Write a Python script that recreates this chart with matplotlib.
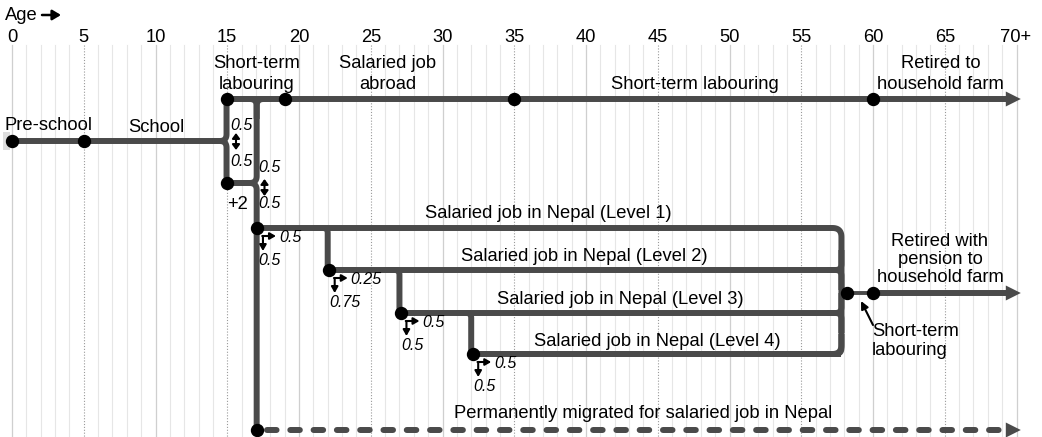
import matplotlib
matplotlib.use('Agg')
import matplotlib.pyplot as plt
import numpy as np

plt.rcParams['font.family'] = ['Liberation Sans', 'DejaVu Sans']

# ---------------- data ----------------
tick_ages = [0, 5, 10, 15, 20, 25, 30, 35, 40, 45, 50, 55, 60, 65, 70]
tick_labels = ['0', '5', '10', '15', '20', '25', '30', '35', '40', '45', '50', '55', '60', '65', '70+']

school_nodes = [0, 5]            # pre-school start, school start
school_end = 15                  # first decision point
extra_school_end = 17            # +2 years of school
top_nodes = [15, 19, 35, 60]     # short-term labouring, abroad, labouring, retired
top_labels = ['Short-term\nlabouring', 'Salaried job\nabroad', 'Short-term labouring',
              'Retired to\nhousehold farm']
top_label_ages = [17.05, 26.2, 47.6, 64.7]

level_start = [17, 22, 27, 32]
level_labels = ['Salaried job in Nepal (Level 1)', 'Salaried job in Nepal (Level 2)',
                'Salaried job in Nepal (Level 3)', 'Salaried job in Nepal (Level 4)']
level_label_ages = [37.4, 39.9, 42.4, 45.0]
level_end = 57.8
pension_nodes = [58.2, 60]
end_age = 70.3

school_split = ['0.5', '0.5']
extra_split = ['0.5', '0.5']
level_stay = ['0.5', '0.25', '0.5', '0.5']
level_move = ['0.5', '0.75', '0.5', '0.5']

# ---------------- layout ----------------
S = 14.35            # pixels per year
X0 = 12              # pixel of age 0
W, H = 1042, 437
LC = '#4a4a4a'
LW = 4.3
MS = 8.6
FS = 13.2
FSI = 11.5
Y_TOP, Y_SCH, Y_P2 = 99, 141, 183
Y_LEV = [228, 270, 313, 354]
Y_PEN = 293
Y_PERM = 430

fig = plt.figure(figsize=(W / 100, H / 100), dpi=100)
ax = fig.add_axes([0, 0, 1, 1])
ax.set_xlim(-X0 / S, (W - X0) / S)
ax.set_ylim(H, 0)
ax.axis('off')

def dx(px):
    return px / S

def ax_px(px):
    return (px - X0) / S

# grid
for a in range(0, 71):
    if a % 10 == 0:
        ax.plot([a, a], [45, H], color='#cfcfcf', lw=0.9, zorder=0)
    elif a % 5 == 0:
        ax.plot([a, a], [45, H], color='#9a9a9a', lw=0.8, ls=(0, (1, 1.6)), zorder=0)
    else:
        ax.plot([a, a], [45, H], color='#e6e6e6', lw=0.8, zorder=0)

# ticks
for a, lab in zip(tick_ages, tick_labels):
    ax.text(a + (dx(-1) if lab.endswith('+') else 0), 41.5, lab, ha='center', va='baseline', fontsize=FS)
ax.text(ax_px(5), 20, 'Age', ha='left', va='baseline', fontsize=FS)
ax.annotate('', xy=(ax_px(61), 15), xytext=(ax_px(42), 15),
            arrowprops=dict(arrowstyle='-|>,head_length=0.5,head_width=0.3', color='black', lw=1.8,
                            shrinkA=0, shrinkB=0))


def rpath(pts, r=7, **kw):
    P = [np.array([a * S, y], float) for a, y in pts]
    out = [P[0]]
    for i in range(1, len(P) - 1):
        p0, p1, p2 = P[i - 1], P[i], P[i + 1]
        d1 = (p0 - p1) / np.linalg.norm(p0 - p1)
        d2 = (p2 - p1) / np.linalg.norm(p2 - p1)
        rr = min(r, np.linalg.norm(p0 - p1) / 2, np.linalg.norm(p2 - p1) / 2)
        A = p1 + d1 * rr
        B = p1 + d2 * rr
        t = np.linspace(0, 1, 14)[:, None]
        out.extend(list((1 - t) ** 2 * A + 2 * (1 - t) * t * p1 + t ** 2 * B))
    out.append(P[-1])
    out = np.array(out)
    kw.setdefault('color', LC)
    kw.setdefault('lw', LW)
    ax.plot(out[:, 0] / S, out[:, 1], solid_capstyle='butt', solid_joinstyle='round', zorder=2, **kw)


def arrowhead(age, y):
    L, h = 15, 7.5
    ax.fill([age, age - dx(L), age - dx(L)], [y, y - h, y + h], color=LC, zorder=3, lw=0)


def node(a, y):
    ax.plot([a], [y], 'o', color='black', ms=MS, zorder=5)


# pre-school / school
ax.add_patch(plt.Rectangle((dx(-9), 132), dx(7), 18, color='#dddddd', zorder=1, lw=0))
rpath([(school_nodes[0], Y_SCH), (school_end, Y_SCH)])
rpath([(school_end - 1, Y_SCH), (school_end - 0.05, Y_SCH), (school_end - 0.05, Y_TOP), (school_end + 1, Y_TOP)], r=7)
rpath([(school_end - 1, Y_SCH), (school_end - 0.05, Y_SCH), (school_end - 0.05, Y_P2), (school_end + 1, Y_P2)], r=7)
for a in school_nodes:
    node(a, Y_SCH)
ax.text(ax_px(49), 130, 'Pre-school', ha='center', va='baseline', fontsize=FS)
ax.text(ax_px(156), 132, 'School', ha='center', va='baseline', fontsize=FS)

# top line
rpath([(top_nodes[0], Y_TOP), (end_age - dx(14), Y_TOP)])
arrowhead(end_age, Y_TOP)
for a in top_nodes:
    node(a, Y_TOP)
for a, lab in zip(top_label_ages, top_labels):
    if '\n' in lab:
        for i, ln in enumerate(lab.split('\n')):
            ax.text(a, 68 + i * 21, ln, ha='center', va='baseline', fontsize=FS)
    else:
        ax.text(a, 89, lab, ha='center', va='baseline', fontsize=FS)

# +2 years of school, then split
xs2 = extra_school_end + 0.05
rpath([(school_end, Y_P2), (xs2, Y_P2), (xs2, Y_TOP), (xs2 + 1, Y_TOP)], r=7)
rpath([(school_end, Y_P2), (xs2, Y_P2), (xs2, Y_PERM)], r=7)
rpath([(xs2 - 1, Y_TOP), (xs2, Y_TOP), (xs2, Y_TOP + 20)], r=7)
node(school_end, Y_P2)
ax.text(ax_px(238), 209, '+2', ha='center', va='baseline', fontsize=FS)

# split annotations (double arrows)
def dbl(a_px, yc, half):
    ax.annotate('', xy=(ax_px(a_px), yc - half), xytext=(ax_px(a_px), yc + half),
                arrowprops=dict(arrowstyle='<|-|>,head_length=0.3,head_width=0.22', color='black',
                                lw=1.5, shrinkA=0, shrinkB=0), zorder=4)

dbl(236, 141.5, 8.5)
ax.text(ax_px(230), 129.5, school_split[0], ha='left', va='baseline', fontsize=FSI, style='italic')
ax.text(ax_px(230), 166.5, school_split[1], ha='left', va='baseline', fontsize=FSI, style='italic')
dbl(264.5, 187.5, 8.5)
ax.text(ax_px(258), 171.5, extra_split[0], ha='left', va='baseline', fontsize=FSI, style='italic')
ax.text(ax_px(258), 207.5, extra_split[1], ha='left', va='baseline', fontsize=FSI, style='italic')

# levels
rpath([(level_start[0], Y_LEV[0]), (level_end, Y_LEV[0]), (level_end, Y_LEV[3]), (level_start[3], Y_LEV[3])], r=9)
for i in range(1, 4):
    a = level_start[i]
    rpath([(a - 1, Y_LEV[i - 1]), (a, Y_LEV[i - 1]), (a, Y_LEV[i]), (a + 2, Y_LEV[i])], r=5)
    rpath([(a, Y_LEV[i]), (level_end, Y_LEV[i])])
    rpath([(level_end - 1, Y_LEV[i]), (level_end, Y_LEV[i]), (level_end, Y_LEV[i] - 20)], r=6)
    if i < 3:
        rpath([(level_end - 1, Y_LEV[i]), (level_end, Y_LEV[i]), (level_end, Y_LEV[i] + 20)], r=6)
for i, a in enumerate(level_start):
    node(a + 0.1, Y_LEV[i])
level_baselines = [218, 261, 304, 346]
for a, lab, yb in zip(level_label_ages, level_labels, level_baselines):
    ax.text(a, yb, lab, ha='center', va='baseline', fontsize=FS)

# corner arrows for level splits
def corner(cx_px, cy):
    cx = ax_px(cx_px)
    ap = dict(arrowstyle='-|>,head_length=0.35,head_width=0.2', color='black', lw=1.5,
              shrinkA=0, shrinkB=0)
    ax.annotate('', xy=(cx + dx(13), cy), xytext=(cx - dx(0.7), cy), arrowprops=ap, zorder=4)
    ax.annotate('', xy=(cx, cy + 15), xytext=(cx, cy), arrowprops=ap, zorder=4)

for i, a in enumerate(level_start):
    bx = X0 + a * S
    ly = Y_LEV[i]
    cx, cy = bx + 7, ly + 8
    corner(cx, cy)
    ax.text(ax_px(cx + 16), cy + 6, level_stay[i], ha='left', va='baseline', fontsize=FSI, style='italic')
    ax.text(ax_px(cx - 5), cy + 29, level_move[i], ha='left', va='baseline', fontsize=FSI, style='italic')

# pension / retirement
rpath([(level_end, Y_PEN), (pension_nodes[0], Y_PEN)])
ax.plot(pension_nodes, [Y_PEN, Y_PEN], color=LC, lw=2.8, zorder=2, solid_capstyle='butt')
rpath([(pension_nodes[1], Y_PEN), (end_age - dx(14), Y_PEN)])
arrowhead(end_age, Y_PEN)
for a in pension_nodes:
    node(a, Y_PEN)
for i, ln in enumerate(['Retired with', 'pension to', 'household farm']):
    ax.text(ax_px(940), 246.5 + i * 17.5, ln, ha='center', va='baseline', fontsize=FS)
ax.annotate('', xy=(ax_px(861), 301), xytext=(ax_px(873), 325),
            arrowprops=dict(arrowstyle='-|>,head_length=0.45,head_width=0.22', color='black', lw=1.5,
                            shrinkA=0, shrinkB=0), zorder=4)
ax.text(ax_px(872), 336.5, 'Short-term', ha='left', va='baseline', fontsize=FS)
ax.text(ax_px(872), 355, 'labouring', ha='left', va='baseline', fontsize=FS)

# permanently migrated
ax.plot([extra_school_end + dx(11), end_age - dx(15)], [Y_PERM, Y_PERM], color=LC, lw=4.3,
        dash_capstyle='round', ls=(0, (1.6, 2.3)), zorder=2)
arrowhead(end_age, Y_PERM)
node(extra_school_end + 0.05, Y_PERM)
ax.text(ax_px(643), 418, 'Permanently migrated for salaried job in Nepal', ha='center', va='baseline',
        fontsize=FS)

fig.savefig('out.png', dpi=100)
